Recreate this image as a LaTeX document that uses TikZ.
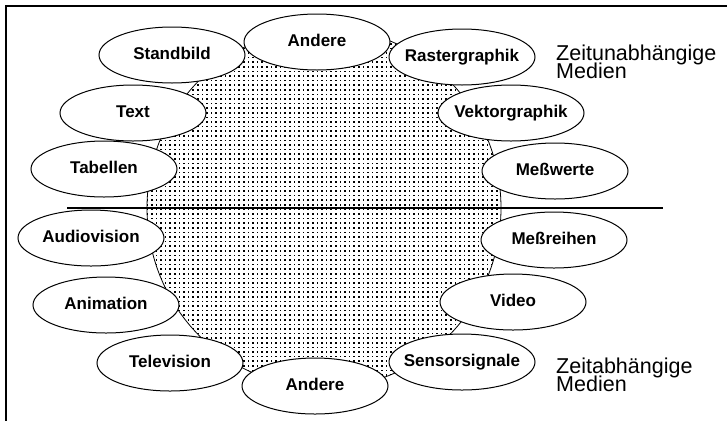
\documentclass[tikz,border=0pt]{standalone}
\usepackage{fontspec}
\setmainfont{Liberation Sans}
\usetikzlibrary{shapes.geometric,patterns}
% dotted raster for the core region
\pgfdeclarepatternformonly{coredots}{\pgfqpoint{-1pt}{-1pt}}{\pgfqpoint{1pt}{1pt}}{\pgfqpoint{4.6pt}{4.6pt}}{%
  \pgfpathrectangle{\pgfqpoint{-0.8pt}{-0.8pt}}{\pgfqpoint{1.6pt}{1.6pt}}\pgfusepath{fill}}
\newcommand\elab[1]{\makebox[0pt]{#1}}
\newcommand\tightlines{\lineskiplimit=-100pt\relax\lineskip=0pt\relax}
\tikzset{
  medium/.style={ellipse, draw, line width=1pt, fill=white,
    minimum width=146pt, minimum height=56pt, inner sep=0pt,
    text height=12pt, text depth=3.5pt,
    font=\fontsize{17}{18}\selectfont\bfseries},
  grouplabel/.style={align=left, inner sep=0pt, anchor=north west,
    font=\fontsize{21.5}{17.5}\selectfont\tightlines},
  frameline/.style={line width=1.5pt},
  divider/.style={line width=1.1pt},
  core/.style={pattern=coredots, draw, line width=0.8pt}
}
\begin{document}
\begin{tikzpicture}[x=1pt,y=-1pt]
  \useasboundingbox (0,0) rectangle (727,421);
  % open frame: top and left edges
  \coordinate (ftl) at (6,6);
  \coordinate (ftr) at (727,6);
  \coordinate (fbl) at (6,421);
  \draw[frameline] (ftr) -- (ftl) -- (fbl);

  % dotted core region
  \node[core, ellipse, minimum width=354pt, minimum height=360pt, inner sep=0pt] (core) at (324,208) {};

  % boundary between the two groups
  \coordinate (dl) at (67,208);
  \coordinate (dr) at (663,208);
  \draw[divider] (dl) -- (dr);

  % time-independent media
  \node[medium] (andereA) at (317,42)  {\elab{Andere}};
  \node[medium] (standbild) at (172,55) {\elab{Standbild}};
  \node[medium] (raster) at (462,57) {\elab{Rastergraphik}};
  \node[medium] (text) at (133,113) {\elab{Text}};
  \node[medium] (vektor) at (511,113) {\elab{Vektorgraphik}};
  \node[medium] (tabellen) at (104,169) {\elab{Tabellen}};
  \node[medium] (messwerte) at (555,171) {\elab{Meßwerte}};

  % time-dependent media
  \node[medium] (audio) at (91,238) {\elab{Audiovision}};
  \node[medium] (messreihen) at (554,240) {\elab{Meßreihen}};
  \node[medium] (animation) at (106,305) {\elab{Animation}};
  \node[medium] (video) at (513,302) {\elab{Video}};
  \node[medium] (television) at (170,363) {\elab{Television}};
  \node[medium] (sensor) at (462,362) {\elab{Sensorsignale}};
  \node[medium] (andereB) at (315,386) {\elab{Andere}};

  % group captions
  \node[grouplabel] (zu) at (556,45) {Zeitunabhängige\\Medien};
  \node[grouplabel] (za) at (556,358) {Zeitabhängige\\Medien};
\end{tikzpicture}
\end{document}
